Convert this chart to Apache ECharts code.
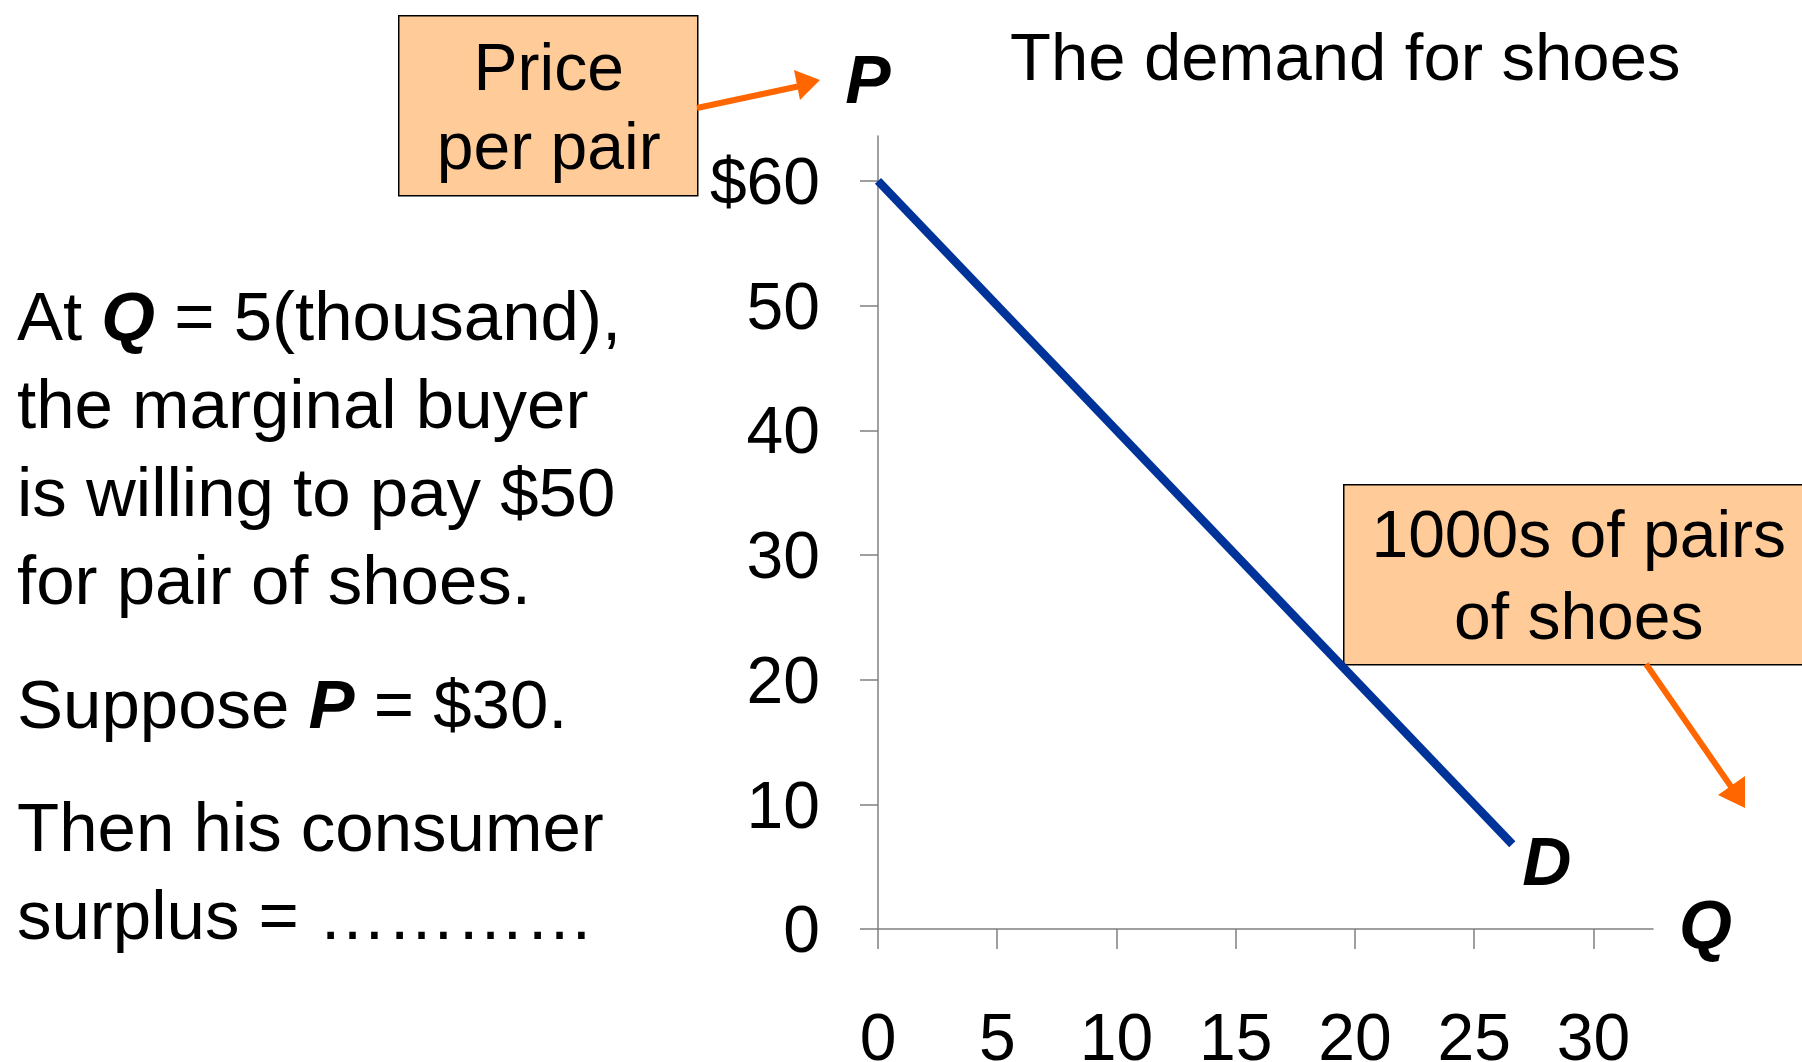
<!DOCTYPE html>
<html>
<head>
    <meta charset="utf-8">
    <title>The demand for shoes</title>
    <script src="https://cdn.jsdelivr.net/npm/echarts@6/dist/echarts.min.js"></script>
    <style>
        html, body { margin: 0; padding: 0; background: #fff; }
    </style>
</head>
<body>
    <div id="main" style="width: 1802px;height:1062px;"></div>
    <script type="text/javascript">
        // demand curve D: P = 60 - 2Q, drawn from Q=0 down to where the line stops
        var demandQ = [0, 26.6];
        var demandP = [60, 6.8];
        var xTicks = [0, 5, 10, 15, 20, 25, 30];
        var yTicks = [0, 10, 20, 30, 40, 50, 60];

        var FONT = 'Liberation Sans, Arial, sans-serif';
        var orange = '#FF6600';
        var boxFill = '#FFCC99';

        var myChart = echarts.init(document.getElementById('main'));

        var lineData = demandQ.map(function (q, i) {
            return [q, demandP[i]];
        });

        var option = {
            animation: false,
            title: {
                text: 'The demand for shoes',
                left: 1010,
                top: 28,
                padding: 0,
                textStyle: { fontSize: 67, fontWeight: 'normal', fontFamily: FONT, color: '#000' }
            },
            grid: { left: 878, right: 149, top: 136, bottom: 133, outerBoundsMode: 'none' },
            xAxis: {
                type: 'value',
                min: 0,
                max: 32.5,
                interval: 5,
                name: 'Q',
                nameLocation: 'end',
                nameGap: 26,
                nameTextStyle: { fontSize: 68, fontWeight: 'bold', fontStyle: 'italic', fontFamily: FONT, color: '#000', padding: [16, 0, 0, 0] },
                axisLine: { lineStyle: { color: '#808080', width: 1.5 } },
                axisTick: { length: 20, customValues: xTicks, lineStyle: { color: '#808080', width: 1.5 } },
                splitLine: { show: false },
                axisLabel: {
                    margin: 80,
                    fontSize: 66,
                    fontFamily: FONT,
                    color: '#000',
                    customValues: xTicks
                }
            },
            yAxis: {
                type: 'value',
                min: 0,
                max: 63.6,
                interval: 10,
                name: 'P',
                nameLocation: 'end',
                nameGap: 18,
                nameTextStyle: { fontSize: 68, fontWeight: 'bold', fontStyle: 'italic', fontFamily: FONT, color: '#000', padding: [0, 20, 0, 0] },
                axisLine: { show: true, lineStyle: { color: '#808080', width: 1.5 } },
                axisTick: { show: true, length: 18, customValues: yTicks, lineStyle: { color: '#808080', width: 1.5 } },
                splitLine: { show: false },
                axisLabel: {
                    margin: 58,
                    fontSize: 66,
                    fontFamily: FONT,
                    color: '#000',
                    verticalAlign: 'top',
                    lineHeight: 10,
                    customValues: yTicks,
                    formatter: function (v) {
                        return v === 60 ? '$60' : String(v);
                    }
                }
            },
            series: [{
                name: 'D',
                type: 'line',
                data: lineData,
                symbol: 'none',
                lineStyle: { color: '#003399', width: 8.5 },
                endLabel: {
                    show: true,
                    formatter: 'D',
                    distance: 10,
                    offset: [0, 22],
                    fontSize: 68,
                    fontWeight: 'bold',
                    fontStyle: 'italic',
                    fontFamily: FONT,
                    color: '#000'
                }
            }],
            graphic: [
                // box: Price per pair
                {
                    type: 'group',
                    left: 398,
                    top: 15,
                    children: [
                        { type: 'rect', shape: { x: 0, y: 0, width: 299, height: 180 },
                          style: { fill: boxFill, stroke: '#000', lineWidth: 1.5 } },
                        { type: 'text', x: 150, y: 96,
                          style: { text: 'Price\nper pair', fontSize: 66, fontFamily: FONT, fill: '#000',
                                   align: 'center', verticalAlign: 'middle', lineHeight: 79 } }
                    ]
                },
                // arrow to P
                { type: 'line', shape: { x1: 697, y1: 108, x2: 800, y2: 86 },
                  style: { stroke: orange, lineWidth: 6 } },
                { type: 'polygon', shape: { points: [[820, 80], [794, 70], [800, 100]] },
                  style: { fill: orange } },
                // box: 1000s of pairs of shoes
                {
                    type: 'group',
                    left: 1343,
                    top: 484,
                    children: [
                        { type: 'rect', shape: { x: 0, y: 0, width: 470, height: 180 },
                          style: { fill: boxFill, stroke: '#000', lineWidth: 1.5 } },
                        { type: 'text', x: 235, y: 95,
                          style: { text: '1000s of pairs\nof shoes', fontSize: 66, fontFamily: FONT, fill: '#000',
                                   align: 'center', verticalAlign: 'middle', lineHeight: 82 } }
                    ]
                },
                // arrow to Q
                { type: 'line', shape: { x1: 1646, y1: 664, x2: 1732, y2: 788 },
                  style: { stroke: orange, lineWidth: 6 } },
                { type: 'polygon', shape: { points: [[1745, 808], [1745, 776], [1718, 795]] },
                  style: { fill: orange } },
                // left explanation
                {
                    type: 'text', left: 17, top: 277,
                    style: {
                        text: 'At {b|Q} = 5(thousand),\nthe marginal buyer\nis willing to pay $50\nfor pair of shoes.',
                        fontSize: 69, fontFamily: FONT, fill: '#000', lineHeight: 88,
                        rich: { b: { fontSize: 69, fontFamily: FONT, fontWeight: 'bold', fontStyle: 'italic', lineHeight: 88 } }
                    }
                },
                {
                    type: 'text', left: 17, top: 665,
                    style: {
                        text: 'Suppose {b|P} = $30.',
                        fontSize: 69, fontFamily: FONT, fill: '#000', lineHeight: 88,
                        rich: { b: { fontSize: 69, fontFamily: FONT, fontWeight: 'bold', fontStyle: 'italic', lineHeight: 88 } }
                    }
                },
                {
                    type: 'text', left: 17, top: 788,
                    style: {
                        text: 'Then his consumer\nsurplus = \u2026\u2026\u2026\u2026',
                        fontSize: 69, fontFamily: FONT, fill: '#000', lineHeight: 88
                    }
                }
            ]
        };

        myChart.setOption(option);
    </script>
</body>
</html>
